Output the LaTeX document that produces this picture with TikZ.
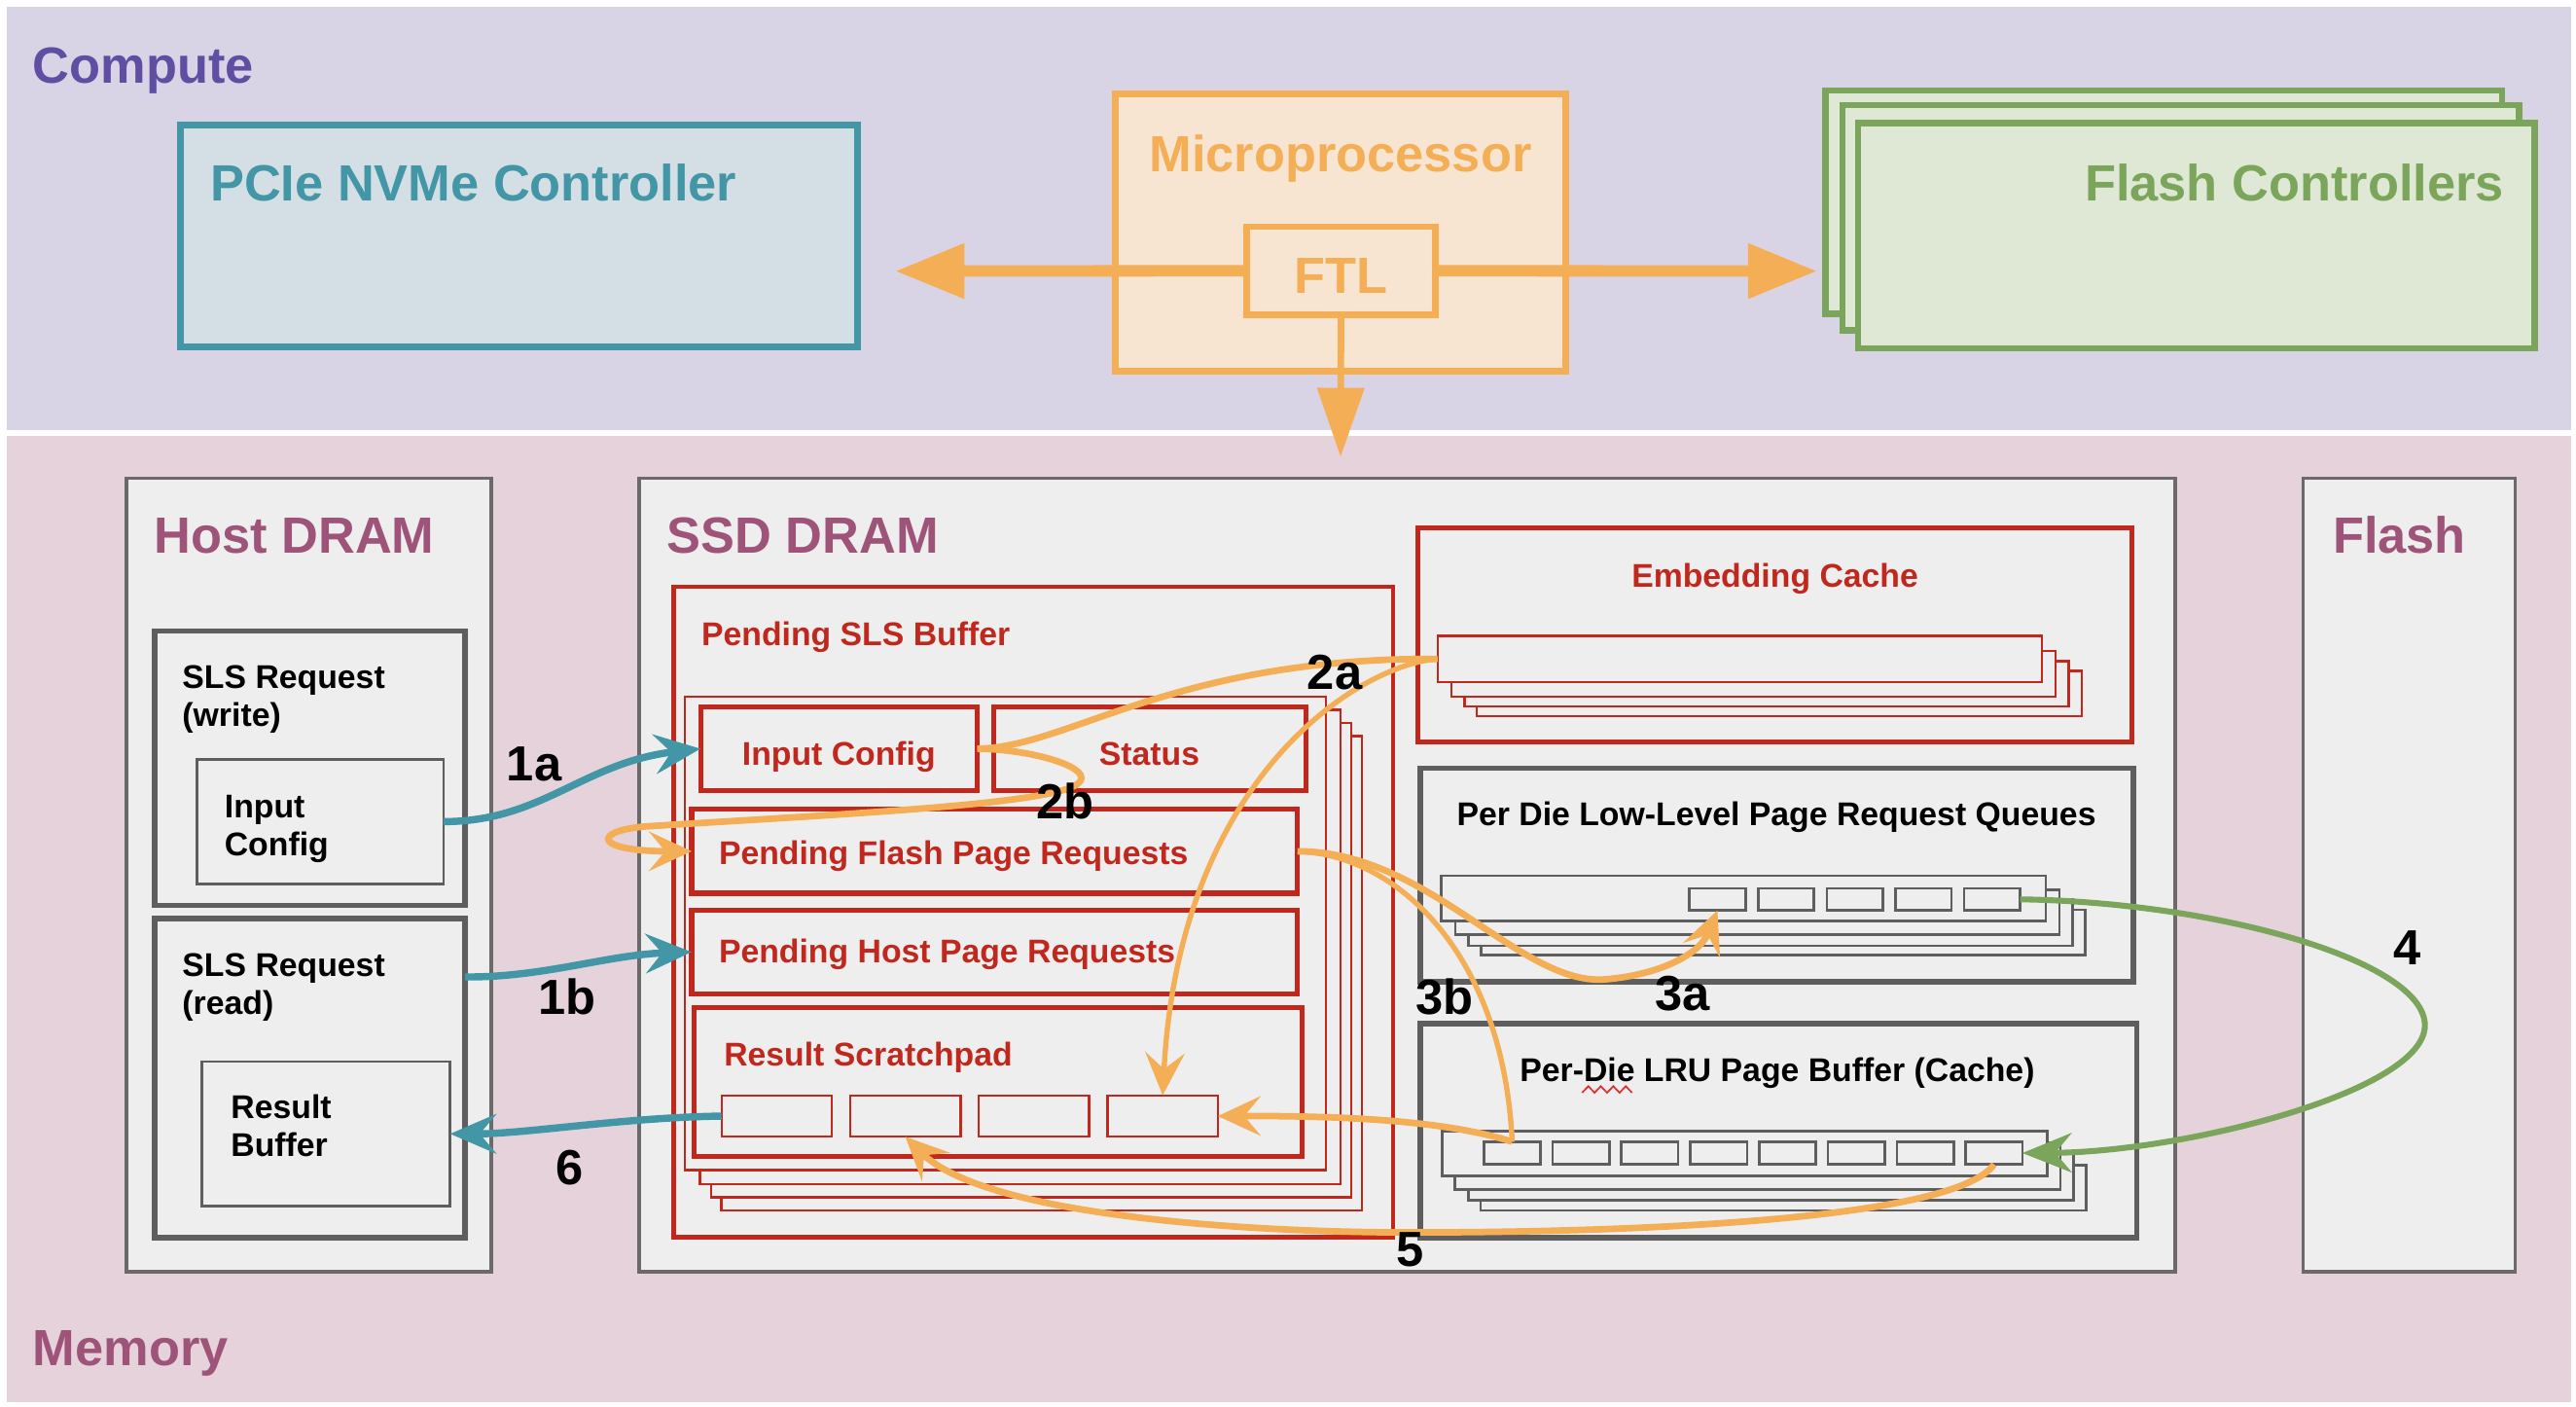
\documentclass[tikz,border=0pt]{standalone}
\usepackage{fontspec}
\setmainfont{Liberation Sans}
\usetikzlibrary{arrows.meta,fit,calc}
\definecolor{cband}{RGB}{217,211,230}
\definecolor{mband}{RGB}{230,210,219}
\definecolor{ctext}{RGB}{96,78,163}
\definecolor{mtext}{RGB}{158,83,120}
\definecolor{cTeal}{RGB}{67,150,166}
\definecolor{cTealFill}{RGB}{211,223,228}
\definecolor{cOr}{RGB}{244,175,86}
\definecolor{cOrFill}{RGB}{247,229,210}
\definecolor{cGr}{RGB}{122,165,91}
\definecolor{cGrFill}{RGB}{222,232,213}
\definecolor{cRed}{RGB}{192,40,30}
\definecolor{cBox}{RGB}{238,238,238}
\definecolor{cGray}{RGB}{94,94,94}
\definecolor{cGrayL}{RGB}{106,106,106}
\definecolor{cSquig}{RGB}{225,45,45}
\tikzset{
  box/.style={inner sep=0pt, outer sep=0pt, rectangle},
  bigt/.style={font=\fontsize{15.5}{18}\selectfont\bfseries, inner sep=0pt, outer sep=0pt},
  medt/.style={font=\fontsize{10}{12}\selectfont\bfseries, inner sep=0pt, outer sep=0pt},
  numt/.style={font=\fontsize{15}{18}\selectfont\bfseries, inner sep=0pt, outer sep=0pt},
  redthick/.style={box, draw=cRed, line width=1.5pt, fill=cBox},
  redthin/.style={draw=cRed, line width=0.7pt, fill=cBox},
  graythick/.style={box, draw=cGray, line width=1.7pt, fill=cBox},
  graythin/.style={draw=cGray, line width=0.8pt, fill=cBox},
  outerbox/.style={box, draw=cGrayL, line width=1pt, fill=cBox},
  tarr/.style={draw=cTeal, line width=2.2pt, -{Stealth[length=14pt,width=12pt,inset=5pt]}},
  oarr/.style={draw=cOr, line width=2pt, -{Stealth[length=13pt,width=12pt,inset=5pt]}},
  oline/.style={draw=cOr, line width=2pt},
  garr/.style={draw=cGr, line width=1.8pt, -{Stealth[length=15pt,width=12pt,inset=5pt]}},
}
\begin{document}
\begin{tikzpicture}[x=0.5pt,y=-0.5pt]
\useasboundingbox (0,0) rectangle (1568,856);
\fill[white] (0,0) rectangle (1568,856);
\fill[cband] (4,4) rectangle (1565,262);
\fill[mband] (4,265) rectangle (1565,853);

% ---------- Compute ----------
\node[bigt, text=ctext, anchor=base west] (tcompute) at (20,50.5) {Compute};
\node[box, draw=cTeal, fill=cTealFill, line width=2pt, fit={(110,76) (522,211)}] (pcie) {};
\node[bigt, text=cTeal, anchor=base west] (tpcie) at (128,122.4) {PCIe NVMe Controller};
\node[box, draw=cOr, fill=cOrFill, line width=2pt, fit={(679,57) (953,226)}] (mp) {};
\node[bigt, text=cOr, anchor=base] (tmp) at (816,104.6) {Microprocessor};
\node[box, draw=cOr, fill=cOrFill, line width=2pt, fit={(759,138) (873.5,191.5)}] (ftl) {};
\node[bigt, text=cOr, anchor=base] (tftl) at (816,178.6) {FTL};
\filldraw[draw=cGr, fill=cGrFill, line width=2pt] (1111,55) rectangle (1523,191);
\filldraw[draw=cGr, fill=cGrFill, line width=2pt] (1121.5,64) rectangle (1533.5,201);
\node[box, draw=cGr, fill=cGrFill, line width=2pt, fit={(1131,75) (1543,212)}] (fc) {};
\node[bigt, text=cGr, anchor=base east] (tfc) at (1524,122.4) {Flash Controllers};
\coordinate (lefttip) at (545,165);
\coordinate (righttip) at (1106,165);
\coordinate (downtip) at (816,278);
\draw[cOr, line width=3.5pt, -{Triangle[length=21pt,width=16pt]}] (ftl.west) -- (lefttip);
\draw[cOr, line width=3.5pt, -{Triangle[length=21pt,width=16pt]}] (ftl.east) -- (righttip);

% ---------- Memory ----------
\node[bigt, text=mtext, anchor=base west] (tmem) at (20,831) {Memory};

% Host DRAM
\node[outerbox, fit={(77,291) (299,774)}] (host) {};
\node[bigt, text=mtext, anchor=base west] (thost) at (94,336.5) {Host DRAM};
\node[graythick, fit={(94,384) (283,551)}] (slsw) {};
\node[medt, anchor=base west] (tslsw1) at (111,419.2) {SLS Request};
\node[medt, anchor=base west] (tslsw2) at (111,442) {(write)};
\node[graythin, box, fit={(120,462) (270,538)}] (hic) {};
\node[medt, anchor=base west] (thic1) at (136.7,497.8) {Input};
\node[medt, anchor=base west] (thic2) at (136.7,520.5) {Config};
\node[graythick, fit={(94,559) (283,753)}] (slsr) {};
\node[medt, anchor=base west] (tslsr1) at (111,594.5) {SLS Request};
\node[medt, anchor=base west] (tslsr2) at (111,617.3) {(read)};
\node[graythin, box, fit={(123,646) (274,734)}] (rbuf) {};
\node[medt, anchor=base west] (trbuf1) at (140.6,680.7) {Result};
\node[medt, anchor=base west] (trbuf2) at (140.6,703.9) {Buffer};

% SSD DRAM
\node[outerbox, fit={(389,291) (1324,774)}] (ssd) {};
\node[bigt, text=mtext, anchor=base west] (tssd) at (406,336.5) {SSD DRAM};

% Pending SLS buffer
\node[box, draw=cRed, line width=1.4pt, fill=cBox, fit={(410,357) (848,753)}] (sls) {};
\node[medt, text=cRed, anchor=base west] (tsls) at (427,392.8) {Pending SLS Buffer};
\filldraw[redthin] (439,448) rectangle (829,736.6);
\filldraw[redthin] (433,440) rectangle (822.4,728.7);
\filldraw[redthin] (426,432) rectangle (816,720.5);
\node[redthin, box, fit={(417,424) (807,712)}] (sls1) {};
\node[redthick, fit={(426.4,430.3) (594.9,481)}] (icfg) {};
\node[medt, text=cRed, anchor=base] (ticfg) at (510.6,465.8) {Input Config};
\node[redthick, fit={(604.6,430.3) (794.7,481)}] (status) {};
\node[medt, text=cRed, anchor=base] (tstatus) at (699.6,465.8) {Status};
\node[redthick, fit={(421,492.5) (789.8,543.6)}] (pfp) {};
\node[medt, text=cRed, anchor=base west] (tpfp) at (437.6,526) {Pending Flash Page Requests};
\node[redthick, fit={(421,553.7) (789.8,605)}] (php) {};
\node[medt, text=cRed, anchor=base west] (tphp) at (437.6,586.2) {Pending Host Page Requests};
\node[redthick, fit={(422.7,612.9) (792.8,703.7)}] (rsp) {};
\node[medt, text=cRed, anchor=base west] (trsp) at (440.7,648.4) {Result Scratchpad};
\foreach \i in {1,...,4} {
  \node[redthin, box, fit={({439.2+78.3*(\i-1)},666.6) ({506.4+78.3*(\i-1)},691.8)}] (c\i) {};
}

% Embedding cache
\node[redthick, fit={(862.8,321.4) (1297.8,451.5)}] (ecache) {};
\node[medt, text=cRed, anchor=base] (tecache) at (1080.4,357.4) {Embedding Cache};
\filldraw[redthin] (899,408.3) rectangle (1267,435.7);
\filldraw[redthin] (891.5,402.4) rectangle (1259.2,430);
\filldraw[redthin] (883.4,396) rectangle (1251,423.8);
\node[redthin, box, fit={(875,387) (1243,415)}] (e1) {};

% Per die queues
\node[graythick, fit={(864.6,467.5) (1298.6,597.4)}] (queue) {};
\node[medt, anchor=base] (tqueue) at (1081.3,502.7) {Per Die Low-Level Page Request Queues};
\filldraw[graythin] (901.5,553.7) rectangle (1269.2,581.1);
\filldraw[graythin] (894,547.5) rectangle (1261.6,575.6);
\filldraw[graythin] (885.8,541.6) rectangle (1253.5,568.7);
\node[graythin, box, fit={(877.3,533) (1245.3,560.4)}] (q1) {};
\foreach \i in {1,...,5} {
  \node[graythin, box, fit={({1028.4+41.8*(\i-1)},540.6) ({1062.4+41.8*(\i-1)},554)}] (qc\i) {};
}

% LRU buffer
\node[graythick, fit={(864.4,622.8) (1300.6,753)}] (lru) {};
\node[medt, anchor=base] (tlru) at (1081.8,657.9) {Per-Die LRU Page Buffer (Cache)};
\draw[cSquig, line width=0.5pt] (963,665) -- (966.8,661) -- (970.6,665) -- (974.4,661) -- (978.2,665) -- (982,661) -- (985.8,665) -- (989.6,661) -- (993.4,665);
\filldraw[graythin] (901.3,709) rectangle (1269.9,736.6);
\filldraw[graythin] (893.7,702) rectangle (1262.3,730.3);
\filldraw[graythin] (885.7,695.5) rectangle (1254.2,724);
\node[graythin, box, fit={(877.7,688.3) (1246.2,715.5)}] (l1) {};
\foreach \i in {0,...,7} {
  \node[graythin, box, fit={({903.2+41.9*\i},694.8) ({937.7+41.9*\i},708.6)}] (lc\i) {};
}

% Flash
\node[outerbox, fit={(1402,291) (1531,774)}] (flash) {};
\node[bigt, text=mtext, anchor=base west] (tflash) at (1420,336.5) {Flash};

% down arrow from FTL
\draw[cOr, line width=2pt, -{Triangle[length=21pt,width=14pt]}] (ftl.south) -- (downtip);

% ---------- connectors ----------
\draw[tarr] (hic.east) .. controls (330,500) and (355,464) .. (icfg.west);
\draw[tarr] ($(slsr.north east)!0.183!(slsr.south east)$) .. controls (330,595) and (370,581) .. (php.west);
\draw[tarr] (c1.west) .. controls (380,680) and (320,690) .. (rbuf.east);

\draw[oline] (icfg.east) .. controls (650,455) and (715,400) .. (e1.west);
\draw[oarr, line width=1.6pt] (e1.west) .. controls (830,404) and (718,470) .. (c4.north);
\draw[oarr] (icfg.east) .. controls (630,456) and (668,468) .. (656,477) .. controls (640,490) and (500,496) .. (392,503) .. controls (360,506) and (362,518) .. (pfp.west);
\draw[oarr] (pfp.east) .. controls (870,518) and (925,600) .. (977,596) .. controls (1012,593) and (1035,580) .. (qc1.south);
\draw[oline, line width=1.6pt] (pfp.east) .. controls (850,520) and (915,580) .. (lc0.north);
\draw[oarr] (lc0.north) .. controls (880,682) and (820,679) .. (c4.east);
\draw[oarr] (lc7.south) .. controls (1190,742) and (1000,750) .. (858,750) .. controls (760,750) and (600,740) .. (c2.south);
\draw[garr] (qc5.east) .. controls (1350,549) and (1476,585) .. (1476,624) .. controls (1476,664) and (1330,701) .. (lc7.east);

% step labels
\node[numt, anchor=base west] (n1a) at (308.5,474.9) {1a};
\node[numt, anchor=base west] (n1b) at (327.8,617.3) {1b};
\node[numt, anchor=base west] (n6) at (338.4,721) {6};
\node[numt, anchor=base west] (n2a) at (795.8,419.4) {2a};
\node[numt, anchor=base west] (n2b) at (631.1,498.4) {2b};
\node[numt, anchor=base west] (n3a) at (1007.3,615) {3a};
\node[numt, anchor=base west] (n3b) at (862,617.5) {3b};
\node[numt, anchor=base west] (n4) at (1457.2,587.4) {4};
\node[numt, anchor=base west] (n5) at (850.3,770.8) {5};
\end{tikzpicture}
\end{document}
